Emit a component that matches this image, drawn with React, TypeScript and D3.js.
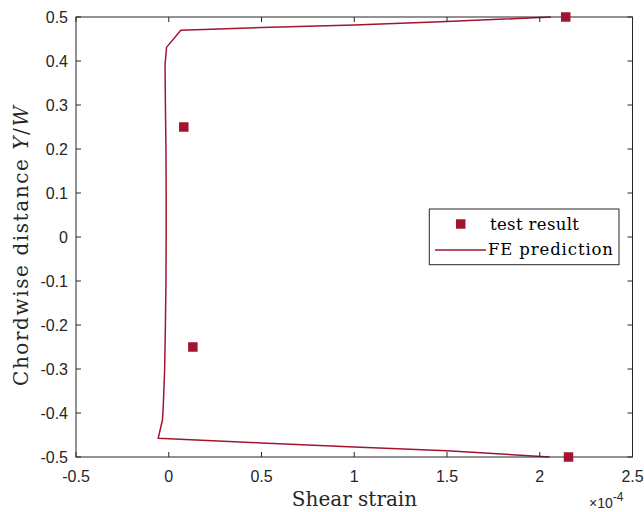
import React from "react";
import * as d3 from "d3";

// FE prediction curve (shear strain in units of 1e-4, chordwise distance Y/W)
const feStrain = [2.06, 1.466, 1.0, 0.5, 0.065, -0.012, -0.02, -0.018, -0.015, -0.014, -0.014, -0.015, -0.018, -0.022, -0.03, -0.034, -0.057, 0.5, 1.0, 1.5, 2.053];
const feY = [0.5, 0.489, 0.482, 0.476, 0.47, 0.431, 0.391, 0.3, 0.2, 0.1, 0.0, -0.1, -0.2, -0.3, -0.39, -0.416, -0.4575, -0.468, -0.477, -0.486, -0.5];

// Test results
const testStrain = [2.14, 0.081, 0.13, 2.155];
const testY = [0.5, 0.25, -0.25, -0.5];

const xTicks = [-0.5, 0, 0.5, 1, 1.5, 2, 2.5];
const yTicks = [-0.5, -0.4, -0.3, -0.2, -0.1, 0, 0.1, 0.2, 0.3, 0.4, 0.5];

const RED = "#A2142F";
const AXIS = "#262626";

export default function App() {
  const W = 644, H = 512;
  const left = 76, right = 632.5, top = 17, bottom = 457;
  const x = d3.scaleLinear().domain([-0.5, 2.5]).range([left, right]);
  const y = d3.scaleLinear().domain([-0.5, 0.5]).range([bottom, top]);
  const line = d3.line<number>().x((_, i) => x(feStrain[i])).y((_, i) => y(feY[i]));
  const tk = 5;
  const sans = "'Liberation Sans', Arial, sans-serif";
  const serif = "'DejaVu Serif', 'Liberation Serif', serif";
  const fmt = (v: number) => (v === 0 ? "0" : String(v));
  const sq = 9.5;

  return (
    <svg width={W} height={H} style={{ position: "absolute", left: 0, top: 0, background: "#fff" }}>
      <rect x={0} y={0} width={W} height={H} fill="#fff" />
      <clipPath id="plot">
        <rect x={left} y={top - 1} width={right - left} height={bottom - top + 2} />
      </clipPath>
      <path d={line(feStrain) ?? ""} fill="none" stroke={RED} strokeWidth={1.5} strokeLinejoin="round" clipPath="url(#plot)" />
      {/* axes box */}
      <rect x={left} y={top} width={right - left} height={bottom - top} fill="none" stroke={AXIS} strokeWidth={1} />
      {xTicks.map((t) => (
        <g key={"x" + t}>
          <line x1={x(t)} x2={x(t)} y1={bottom} y2={bottom - tk} stroke={AXIS} />
          <line x1={x(t)} x2={x(t)} y1={top} y2={top + tk} stroke={AXIS} />
          <text x={x(t)} y={482} fontFamily={sans} fontSize={16} fill={AXIS} textAnchor="middle">{fmt(t)}</text>
        </g>
      ))}
      {yTicks.map((t) => (
        <g key={"y" + t}>
          <line x1={left} x2={left + tk} y1={y(t)} y2={y(t)} stroke={AXIS} />
          <line x1={right} x2={right - tk} y1={y(t)} y2={y(t)} stroke={AXIS} />
          <text x={68} y={y(t) + 5.8} fontFamily={sans} fontSize={16} fill={AXIS} textAnchor="end">{fmt(Math.round(t * 10) / 10)}</text>
        </g>
      ))}
      {testStrain.map((v, i) => (
        <rect key={i} x={x(v) - sq / 2} y={y(testY[i]) - sq / 2} width={sq} height={sq} fill={RED} />
      ))}
      <text x={589} y={508} fontFamily={sans} fontSize={14} fill={AXIS}>
        ×10<tspan dy={-7} fontSize={12}>-4</tspan>
      </text>
      <text x={354.5} y={505.5} fontFamily={serif} fontSize={20} fill={AXIS} textAnchor="middle">Shear strain</text>
      <text transform={`translate(28,246) rotate(-90)`} fontFamily={serif} fontSize={20} fill={AXIS} textAnchor="middle" textLength={280} lengthAdjust="spacing">
        Chordwise distance <tspan fontStyle="italic">Y</tspan>/<tspan fontStyle="italic">W</tspan>
      </text>
      {/* legend */}
      <g>
        <rect x={429.3} y={209} width={189.7} height={55.7} fill="#fff" stroke={AXIS} strokeWidth={1} />
        <rect x={460.7 - sq / 2} y={224 - sq / 2} width={sq} height={sq} fill={RED} />
        <text x={490} y={229.5} fontFamily={serif} fontSize={16.5} fill="#000" textLength={89} lengthAdjust="spacing">test result</text>
        <line x1={435} x2={486} y1={250} y2={250} stroke={RED} strokeWidth={1.5} />
        <text x={488} y={255} fontFamily={serif} fontSize={16.5} fill="#000" textLength={125} lengthAdjust="spacing">FE prediction</text>
      </g>
    </svg>
  );
}
